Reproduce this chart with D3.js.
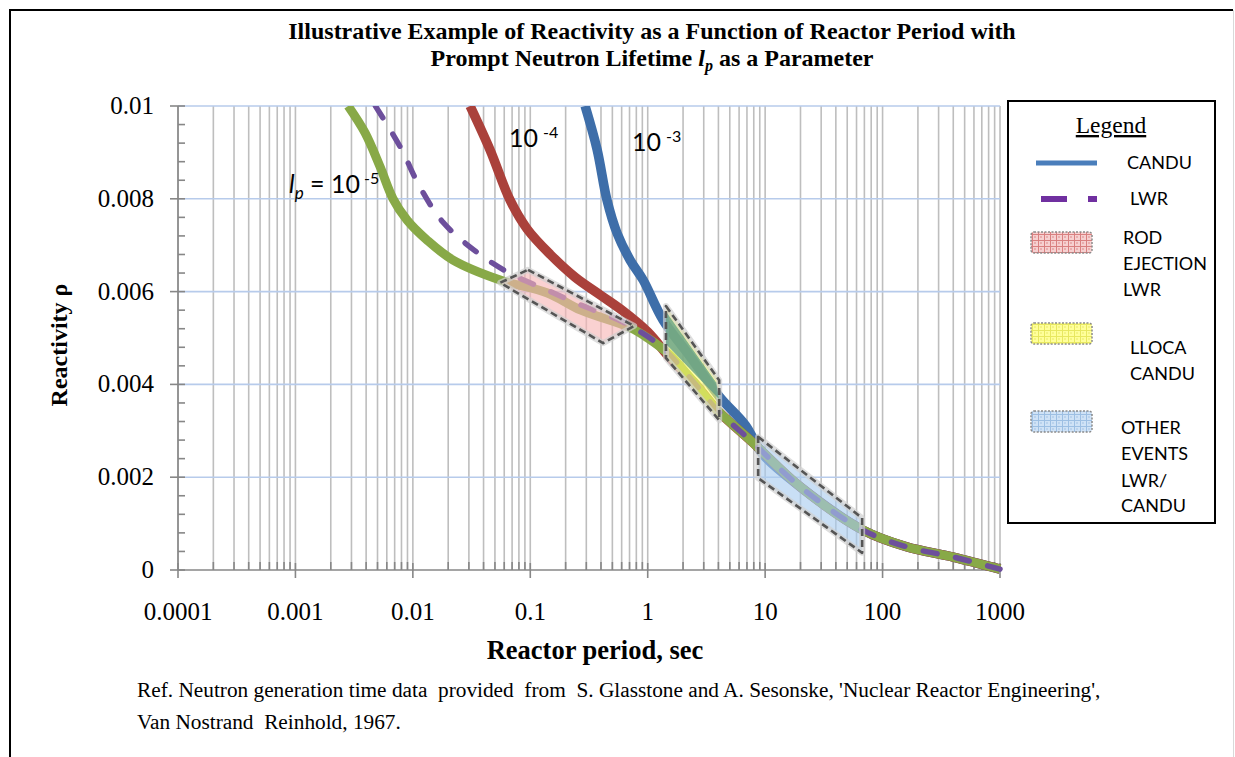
<!DOCTYPE html>
<html>
<head>
<meta charset="utf-8">
<script src="https://cdn.jsdelivr.net/npm/d3@7"></script>
<style>
  body { margin: 0; background: #fff; }
</style>
</head>
<body>
<div class="canvas"></div>
<script>
// axis ticks
const periodTicks = [0.0001, 0.001, 0.01, 0.1, 1, 10, 100, 1000];
const periodLabels = ["0.0001", "0.001", "0.01", "0.1", "1", "10", "100", "1000"];
const rhoTicks = [0, 0.002, 0.004, 0.006, 0.008, 0.01];
const rhoLabels = ["0", "0.002", "0.004", "0.006", "0.008", "0.01"];

// curves: [period sec, reactivity]
const lp1e5 = [
  [0.00281, 0.0100], [0.00392, 0.00942], [0.00526, 0.00869], [0.00678, 0.0080],
  [0.00893, 0.00754], [0.0132, 0.00711], [0.022, 0.00668], [0.0554, 0.00625],
  [0.14, 0.00597], [0.27, 0.0056], [0.71, 0.00522], [1.0, 0.0050],
  [1.55, 0.00463], [2.5, 0.00403], [3.9, 0.00345], [7.9, 0.00274],
  [20, 0.00179], [68, 0.00086], [160, 0.0005], [400, 0.00028], [1000, 0.00002]
];
const lp1e4 = [
  [0.0307, 0.0100], [0.0455, 0.00905], [0.0673, 0.00797], [0.094, 0.00735],
  [0.148, 0.0068], [0.241, 0.00631], [0.393, 0.00593], [0.617, 0.00558],
  [1.0, 0.00513], [1.55, 0.00457], [2.5, 0.00403], [3.9, 0.00345], [7.9, 0.00274],
  [20, 0.00179], [68, 0.00086], [160, 0.0005], [400, 0.00028], [1000, 0.00002]
];
const lp1e3 = [
  [0.293, 0.0100], [0.37, 0.00907], [0.45, 0.00797], [0.548, 0.00726],
  [0.708, 0.00668], [0.914, 0.00625], [1.35, 0.00539], [2.3, 0.0046],
  [4.1, 0.00373], [6.8, 0.00312], [9.5, 0.0025], [20, 0.00179],
  [68, 0.00086], [160, 0.0005], [400, 0.00028], [1000, 0.00002]
];
const lwr = [
  [0.0048, 0.0100], [0.0078, 0.00912], [0.0115, 0.00825], [0.018, 0.0075],
  [0.033, 0.0069], [0.064, 0.00642], [0.14, 0.00603], [0.27, 0.00571],
  [0.62, 0.00534], [1.2, 0.00489], [1.55, 0.00463], [2.5, 0.00403],
  [3.9, 0.00345], [7.9, 0.00274], [20, 0.00179], [68, 0.00086],
  [160, 0.0005], [400, 0.00028], [1000, 0.00002]
];

// event regions (corners, same units)
const rodEjection = [[0.0957, 0.00647], [0.766, 0.00526], [0.417, 0.00489], [0.0554, 0.00619]];
const llocaCandu = [[1.43, 0.00569], [4.06, 0.00409], [4.06, 0.00323], [1.43, 0.00457]];
const llocaCore = [[1.43, 0.00557], [3.83, 0.00404], [4.06, 0.00368], [1.43, 0.00487]];
const otherEvents = [[8.72, 0.00287], [67, 0.00112], [67, 0.00037], [8.72, 0.00198]];

const legendNames = [["CANDU"], ["LWR"], ["ROD", "EJECTION", "LWR"], ["LLOCA", "CANDU"], ["OTHER", "EVENTS", "LWR/", "CANDU"]];

const W = 1235, H = 757;
const plot = { left: 178, right: 1000, top: 106, bottom: 570 };
const serif = "'Liberation Serif', 'Times New Roman', serif";
const sans = "Lato, 'Open Sans', sans-serif";

const svg = d3.select(".canvas").append("svg")
  .attr("width", W).attr("height", H)
  .style("display", "block");

const x = d3.scaleLog().domain([0.0001, 1000]).range([plot.left, plot.right]);
const y = d3.scaleLinear().domain([0, 0.01]).range([plot.bottom, plot.top]);

// patterns for legend swatches
const defs = svg.append("defs");
const makePattern = (id, bg, ln) => {
  const p = defs.append("pattern").attr("id", id)
    .attr("width", 6).attr("height", 6).attr("patternUnits", "userSpaceOnUse");
  p.append("rect").attr("width", 6).attr("height", 6).attr("fill", bg);
  p.append("path").attr("d", "M0,0.5H6M0.5,0V6").attr("stroke", ln).attr("stroke-width", 1);
  p.append("circle").attr("cx", 3).attr("cy", 3).attr("r", 0.8).attr("fill", ln);
};
makePattern("pinkPat", "#f6d0d0", "#d98080");
makePattern("yellowPat", "#ffff9a", "#e8e860");
makePattern("bluePat", "#cfe2f6", "#9dbfe3");

defs.append("clipPath").attr("id", "plotClip")
  .append("rect").attr("x", plot.left).attr("y", plot.top)
  .attr("width", plot.right - plot.left + 10).attr("height", plot.bottom - plot.top + 20);

// outer frame
svg.append("path").attr("d", `M10,${H}V10H1233`).attr("fill", "none")
  .attr("stroke", "#000").attr("stroke-width", 2);
svg.append("line").attr("x1", 1233.5).attr("x2", 1233.5).attr("y1", 10).attr("y2", H)
  .attr("stroke", "#d9d9d9").attr("stroke-width", 1);

// title
const title = svg.append("text").attr("x", 652).attr("y", 39)
  .attr("text-anchor", "middle").attr("font-family", serif)
  .attr("font-weight", "bold").attr("font-size", 24);
title.append("tspan").attr("x", 652).text("Illustrative Example of Reactivity as a Function of Reactor Period with");
const t2 = title.append("tspan").attr("x", 652).attr("dy", 27);
t2.append("tspan").text("Prompt Neutron Lifetime ");
t2.append("tspan").attr("font-style", "italic").text("l");
t2.append("tspan").attr("font-size", 16).attr("font-style", "italic").attr("dy", 5).text("p");
t2.append("tspan").attr("dy", -5).text(" as a Parameter");

// vertical grid (log decades with minors)
const grid = svg.append("g");
grid.selectAll("line.vg").data(x.ticks()).join("line")
  .attr("class", "vg")
  .attr("x1", d => x(d)).attr("x2", d => x(d))
  .attr("y1", plot.top).attr("y2", plot.bottom)
  .attr("stroke", "#bebebe").attr("stroke-width", 1.6);

// horizontal grid
grid.selectAll("line.hg").data(rhoTicks.slice(1)).join("line")
  .attr("class", "hg")
  .attr("x1", plot.left).attr("x2", plot.right)
  .attr("y1", d => y(d)).attr("y2", d => y(d))
  .attr("stroke", "#b7cbeb").attr("stroke-width", 1.6);

// axes
const axisCol = "#878787";
svg.append("line").attr("x1", plot.left).attr("x2", plot.right)
  .attr("y1", plot.bottom).attr("y2", plot.bottom)
  .attr("stroke", axisCol).attr("stroke-width", 1.6);
svg.append("line").attr("x1", plot.left).attr("x2", plot.left)
  .attr("y1", plot.top).attr("y2", plot.bottom)
  .attr("stroke", axisCol).attr("stroke-width", 1.6);

const isDecade = d => Math.abs(Math.log10(d) - Math.round(Math.log10(d))) < 1e-6;
svg.append("g").selectAll("line").data(x.ticks()).join("line")
  .attr("x1", d => x(d)).attr("x2", d => x(d))
  .attr("y1", d => isDecade(d) ? plot.bottom - 7 : plot.bottom - 8)
  .attr("y2", d => isDecade(d) ? plot.bottom + 8 : plot.bottom)
  .attr("stroke", axisCol).attr("stroke-width", 1.6);

svg.append("g").selectAll("line").data(d3.range(0, 0.01 + 1e-9, 0.0004)).join("line")
  .attr("x1", plot.left).attr("x2", plot.left + 7)
  .attr("y1", d => y(d)).attr("y2", d => y(d))
  .attr("stroke", axisCol).attr("stroke-width", 1.6);
svg.append("g").selectAll("line").data(rhoTicks).join("line")
  .attr("x1", plot.left - 8).attr("x2", plot.left)
  .attr("y1", d => y(d)).attr("y2", d => y(d))
  .attr("stroke", axisCol).attr("stroke-width", 1.6);

svg.append("g").selectAll("text").data(periodTicks).join("text")
  .attr("x", d => x(d)).attr("y", 620)
  .attr("text-anchor", "middle").attr("font-family", serif).attr("font-size", 25)
  .text((d, i) => periodLabels[i]);

svg.append("g").selectAll("text").data(rhoTicks).join("text")
  .attr("x", 154).attr("y", d => y(d) + 8)
  .attr("text-anchor", "end").attr("font-family", serif).attr("font-size", 25)
  .text((d, i) => rhoLabels[i]);

svg.append("text").attr("x", 595).attr("y", 659)
  .attr("text-anchor", "middle").attr("font-family", serif)
  .attr("font-weight", "bold").attr("font-size", 26.5)
  .text("Reactor period, sec");

svg.append("text").attr("transform", "translate(67,345) rotate(-90)")
  .attr("text-anchor", "middle").attr("font-family", serif)
  .attr("font-weight", "bold").attr("font-size", 24)
  .text("Reactivity ρ");

// curves
const lineGen = d3.line().x(d => x(d[0])).y(d => y(d[1])).curve(d3.curveCatmullRom.alpha(0.5));
const curves = svg.append("g").attr("clip-path", "url(#plotClip)");

curves.append("path").datum(lp1e3).attr("d", lineGen)
  .attr("fill", "none").attr("stroke", "#3e6ea9").attr("stroke-width", 9.5);
curves.append("path").datum(lp1e4).attr("d", lineGen)
  .attr("fill", "none").attr("stroke", "#aa413b").attr("stroke-width", 9.5);
curves.append("path").datum(lp1e5).attr("d", lineGen)
  .attr("fill", "none").attr("stroke", "#88a947").attr("stroke-width", 9);
curves.append("path").datum(lwr).attr("d", lineGen)
  .attr("fill", "none").attr("stroke", "#6d4f9c").attr("stroke-width", 5.5)
  .attr("stroke-linecap", "round").attr("stroke-dasharray", "14,19");

// event regions
const regionGen = d3.line().x(d => x(d[0])).y(d => y(d[1])).curve(d3.curveLinearClosed);
const drawRegion = (pts, fill, op, core) => {
  const g = svg.append("g");
  g.append("path").datum(pts).attr("d", regionGen)
    .attr("fill", fill).attr("fill-opacity", op)
    .attr("stroke", "#d0d0d0").attr("stroke-width", 6).attr("stroke-opacity", 0.7)
    .attr("stroke-linejoin", "round");
  if (core) {
    g.append("path").datum(core).attr("d", regionGen)
      .attr("fill", "#5f9c86").attr("fill-opacity", 0.78);
  }
  g.append("path").datum(pts).attr("d", regionGen)
    .attr("fill", "none").attr("stroke", "#555").attr("stroke-width", 2.6)
    .attr("stroke-dasharray", "7,4").attr("stroke-linejoin", "round");
};
drawRegion(rodEjection, "#f7b4b4", 0.62);
drawRegion(llocaCandu, "#ffff6a", 0.62, llocaCore);
drawRegion(otherEvents, "#a8ccef", 0.62);

// curve labels
const ann = svg.append("g").attr("font-family", sans).attr("fill", "#000");
const a4 = ann.append("text").attr("x", 509).attr("y", 147).attr("font-size", 25);
a4.append("tspan").text("10");
a4.append("tspan").attr("dx", 5).attr("dy", -9).attr("font-size", 16).text("-4");
const a3 = ann.append("text").attr("x", 632).attr("y", 151).attr("font-size", 25);
a3.append("tspan").text("10");
a3.append("tspan").attr("dx", 5).attr("dy", -9).attr("font-size", 16).text("-3");
const a5 = ann.append("text").attr("x", 289).attr("y", 193).attr("font-size", 25);
a5.append("tspan").attr("font-style", "italic").text("l");
a5.append("tspan").attr("font-style", "italic").attr("font-size", 17).attr("dy", 6).text("p");
a5.append("tspan").attr("dy", -6).text(" = 10");
a5.append("tspan").attr("dx", 4).attr("dy", -9).attr("font-size", 16).text("-5");

// legend
const leg = svg.append("g");
leg.append("rect").attr("x", 1008).attr("y", 101).attr("width", 207).attr("height", 422)
  .attr("fill", "#fff").attr("stroke", "#000").attr("stroke-width", 2);
leg.append("text").attr("x", 1111).attr("y", 133).attr("text-anchor", "middle")
  .attr("font-family", serif).attr("font-size", 23.5).attr("text-decoration", "underline")
  .text("Legend");
leg.append("line").attr("x1", 1036).attr("x2", 1097).attr("y1", 163).attr("y2", 163)
  .attr("stroke", "#4a7ebb").attr("stroke-width", 5);
leg.append("line").attr("x1", 1041).attr("x2", 1097).attr("y1", 199).attr("y2", 199)
  .attr("stroke", "#7030a0").attr("stroke-width", 6).attr("stroke-dasharray", "26,21");

const swatches = [
  { y: 232, fill: "url(#pinkPat)" },
  { y: 323, fill: "url(#yellowPat)" },
  { y: 411, fill: "url(#bluePat)" }
];
leg.selectAll("rect.sw").data(swatches).join("rect")
  .attr("class", "sw")
  .attr("x", 1031).attr("y", d => d.y).attr("width", 61).attr("height", 21)
  .attr("rx", 3)
  .attr("fill", d => d.fill).attr("stroke", "#8a8a8a").attr("stroke-width", 1.5)
  .attr("stroke-dasharray", "2,1.5");

const labelPos = [
  { x: 1127, y: [169] },
  { x: 1130, y: [205] },
  { x: 1123, y: [244, 270, 296] },
  { x: 1130, y: [354, 380] },
  { x: 1121, y: [434, 460, 487, 512] }
];
legendNames.forEach((lines, i) => {
  lines.forEach((s, j) => {
    leg.append("text").attr("x", labelPos[i].x).attr("y", labelPos[i].y[j])
      .attr("font-family", sans).attr("font-size", 18).text(s);
  });
});

// source note
const note = svg.append("g").attr("font-family", serif).attr("font-size", 21.3);
note.append("text").attr("x", 137).attr("y", 697).attr("xml:space", "preserve")
  .text("Ref. Neutron generation time data  provided  from  S. Glasstone and A. Sesonske, 'Nuclear Reactor Engineering',");
note.append("text").attr("x", 137).attr("y", 729).attr("xml:space", "preserve")
  .text("Van Nostrand  Reinhold, 1967.");
</script>
</body>
</html>
